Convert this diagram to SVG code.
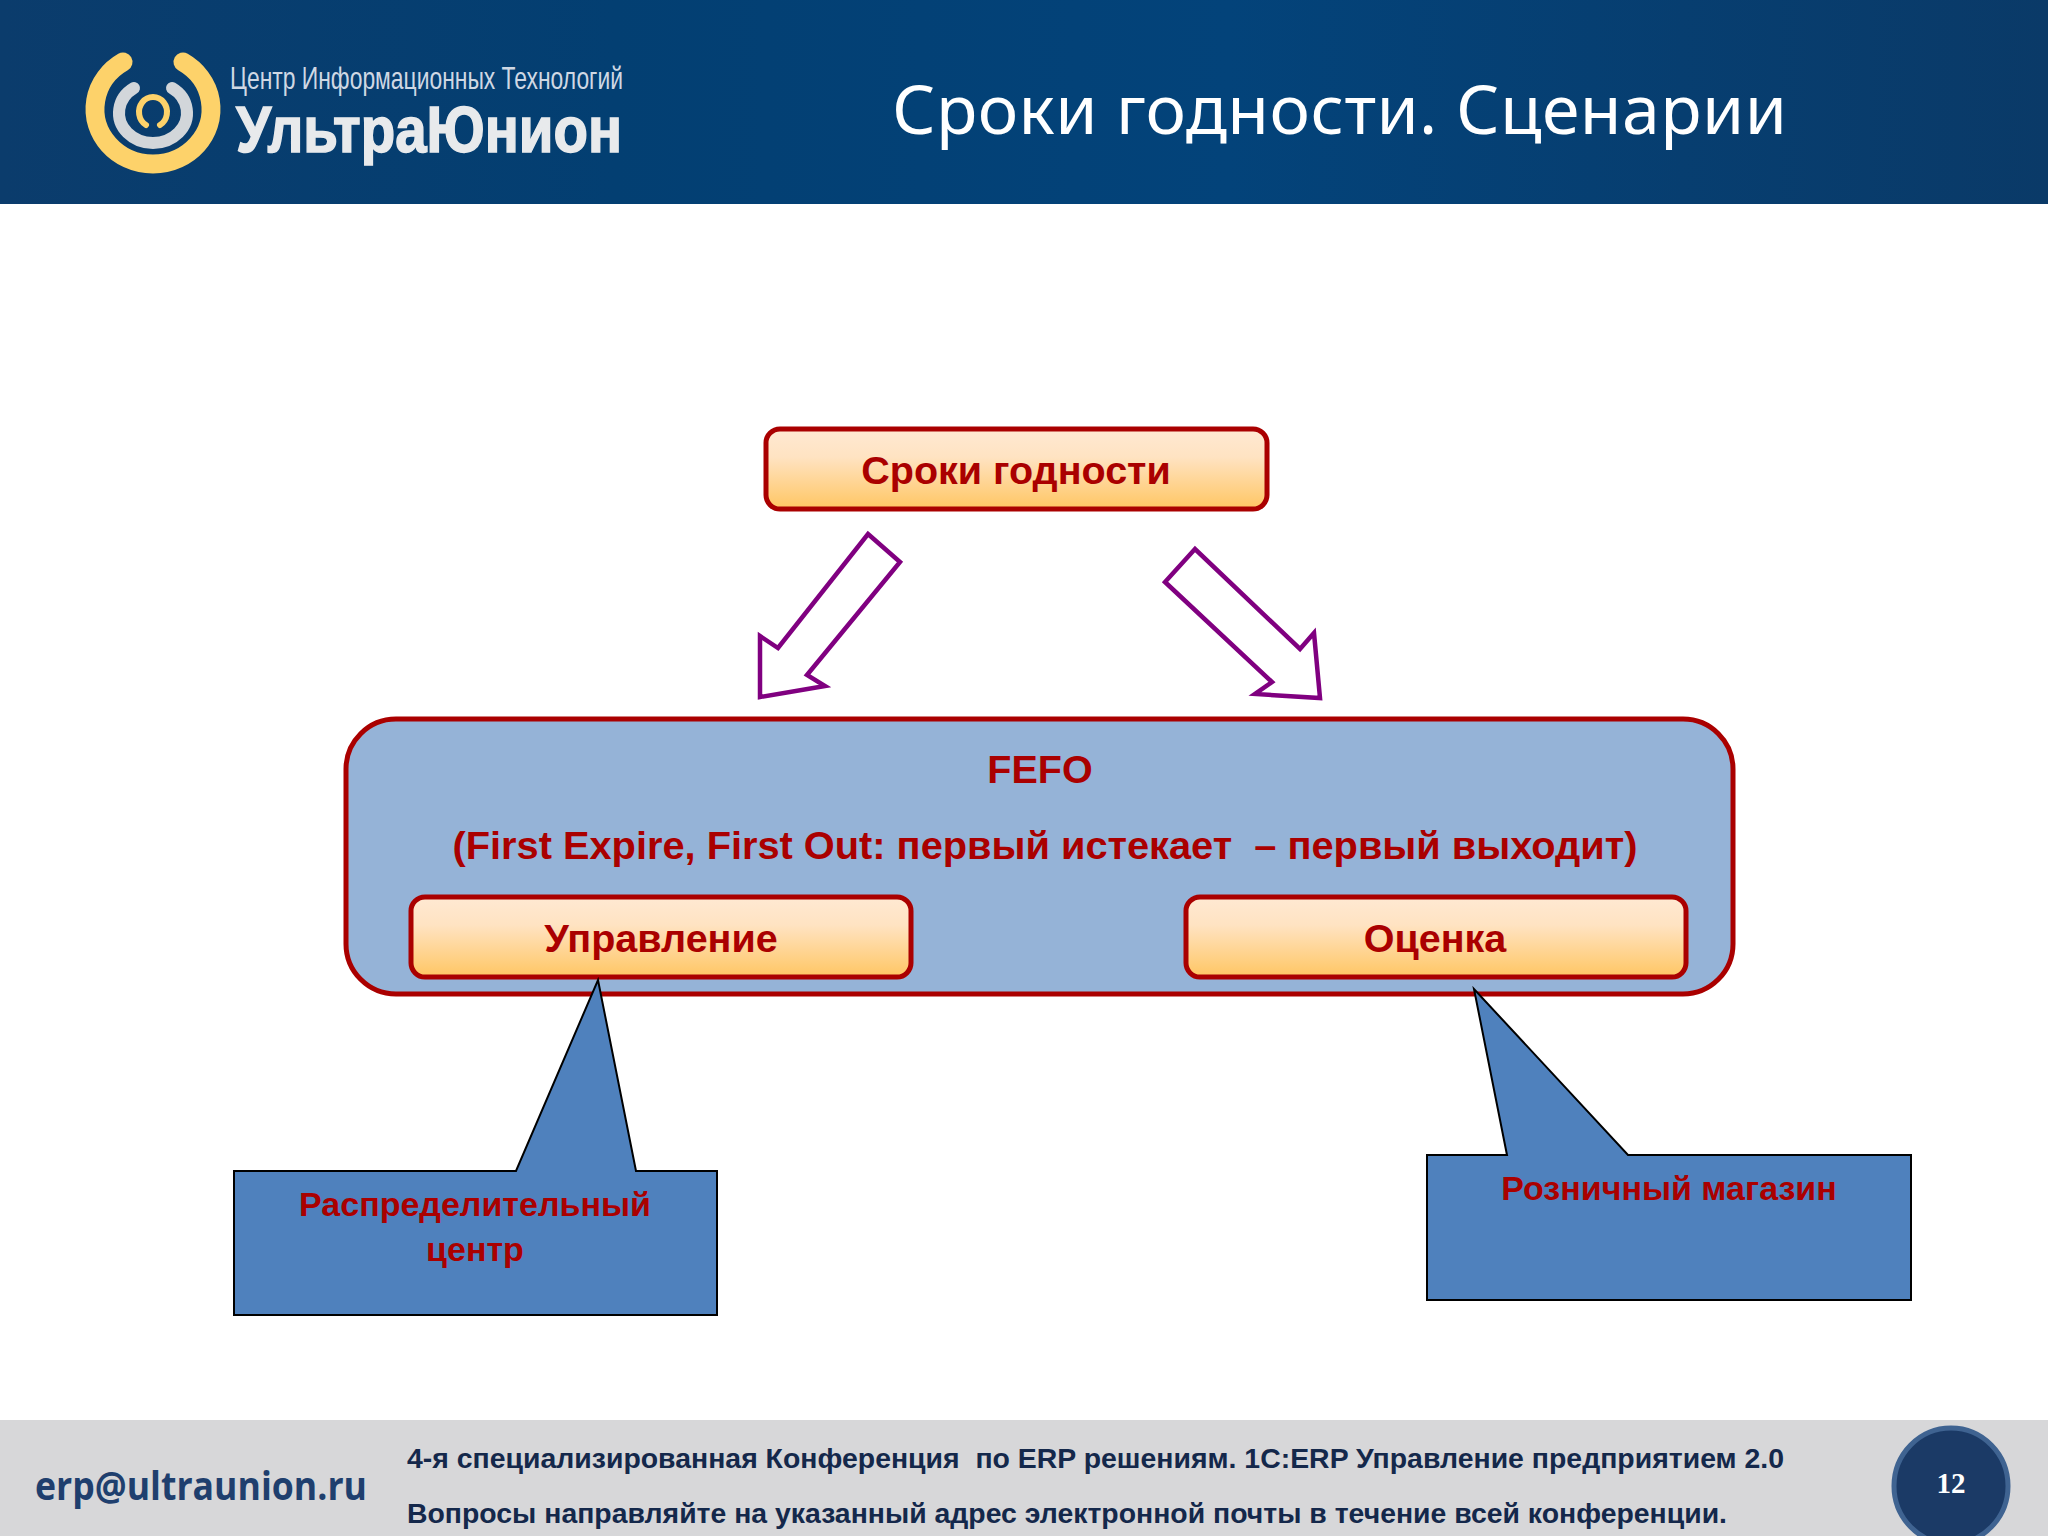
<svg xmlns="http://www.w3.org/2000/svg" width="2048" height="1536" viewBox="0 0 2048 1536">
<defs>
<linearGradient id="hdr" x1="0" x2="1" y1="0" y2="0"><stop offset="0" stop-color="#0b3c6c"/><stop offset=".3" stop-color="#033f72"/><stop offset=".6" stop-color="#03437a"/><stop offset="1" stop-color="#0a3a68"/></linearGradient>
<linearGradient id="btn" x1="0" x2="0" y1="0" y2="1"><stop offset="0" stop-color="#ffe9d3"/><stop offset=".35" stop-color="#ffe3c2"/><stop offset="1" stop-color="#ffc663"/></linearGradient>
</defs>
<style>
text{font-family:"Liberation Sans",Arial,sans-serif;white-space:pre}
.r{font-weight:700;fill:#aa0000;text-anchor:middle}
.b{font-size:39.5px}
.c{font-size:34px}
.f{font-weight:700;fill:#14284b;font-size:28px}
.btn{fill:url(#btn);stroke:#aa0000;stroke-width:5}
.arrow{fill:#fff;stroke:#800080;stroke-width:4.5}
.call{fill:#4f81bd;stroke:#000;stroke-width:2}
</style>
<rect width="2048" height="1536" fill="#fff"/>
<g id="header">
<rect width="2048" height="204" fill="url(#hdr)"/>
<g id="logo" fill="none" stroke-linecap="round">
<path d="M123,62A58,55 0 1 0 183,62" stroke="#fdd26a" stroke-width="19"/>
<path d="M134,88A34,30 0 1 0 172,88" stroke="#d2d6da" stroke-width="12"/>
<path d="M146,125A14,15 0 1 1 160,125" stroke="#fdd26a" stroke-width="6"/>
</g>
<text x="230" y="89" font-size="32" fill="#cfd8e4" textLength="393" lengthAdjust="spacingAndGlyphs">Центр Информационных Технологий</text>
<text x="236" y="152" font-size="64" font-weight="700" fill="#e8eaec" stroke="#e8eaec" stroke-width="1.5" textLength="386" lengthAdjust="spacingAndGlyphs">УльтраЮнион</text>
<text x="892" y="134" font-size="68" fill="#fff" style="font-family:'Noto Sans',sans-serif" textLength="895">Сроки годности. Сценарии</text>
</g>
<g id="connectors">
<path class="arrow" d="M868,534L900,562L807,675L825,686L760,697L760,636L778,648Z"/>
<path class="arrow" d="M1195,549L1165,582L1272,682L1255,694L1320,698L1314,633L1300,649Z"/>
</g>
<g id="fefo">
<rect x="346" y="719" width="1387" height="275" rx="50" fill="#95b3d7" stroke="#aa0000" stroke-width="5"/>
<text class="r b" x="1040" y="783">FEFO</text>
<text class="r b" x="1045" y="859" textLength="1185" lengthAdjust="spacingAndGlyphs">(First Expire, First Out: первый истекает  – первый выходит)</text>
</g>
<g id="node-srok">
<rect class="btn" x="766" y="429" width="501" height="80" rx="14"/>
<text class="r b" x="1016" y="484">Сроки годности</text>
</g>
<g id="node-upr">
<rect class="btn" x="411" y="897" width="500" height="80" rx="14"/>
<text class="r b" x="661" y="952">Управление</text>
</g>
<g id="node-oc">
<rect class="btn" x="1186" y="897" width="500" height="80" rx="14"/>
<text class="r b" x="1435" y="952">Оценка</text>
</g>
<g id="callout-dc">
<path class="call" d="M234,1171H516L598,980L636,1171H717V1315H234Z"/>
<text class="r c" x="475" y="1216">Распределительный</text>
<text class="r c" x="475" y="1261">центр</text>
</g>
<g id="callout-shop">
<path class="call" d="M1427,1155H1507L1474,989L1628,1155H1911V1300H1427Z"/>
<text class="r c" x="1669" y="1200">Розничный магазин</text>
</g>
<g id="footer">
<rect y="1420" width="2048" height="116" fill="#d7d7d9"/>
<text x="35" y="1500" font-size="39" font-weight="700" fill="#1f3f6e" style="font-family:'Open Sans',sans-serif" textLength="332" lengthAdjust="spacingAndGlyphs">erp@ultraunion.ru</text>
<text class="f" x="407" y="1468" textLength="1377" lengthAdjust="spacingAndGlyphs">4-я специализированная Конференция  по ERP решениям. 1C:ERP Управление предприятием 2.0</text>
<text class="f" x="407" y="1523" textLength="1320" lengthAdjust="spacingAndGlyphs">Вопросы направляйте на указанный адрес электронной почты в течение всей конференции.</text>
<ellipse cx="1951" cy="1486" rx="57" ry="58" fill="#1b3a66" stroke="#3f6391" stroke-width="5"/>
<text x="1951" y="1493" font-size="29" font-weight="700" fill="#fff" text-anchor="middle" style="font-family:'Liberation Serif',serif">12</text>
</g>
</svg>
